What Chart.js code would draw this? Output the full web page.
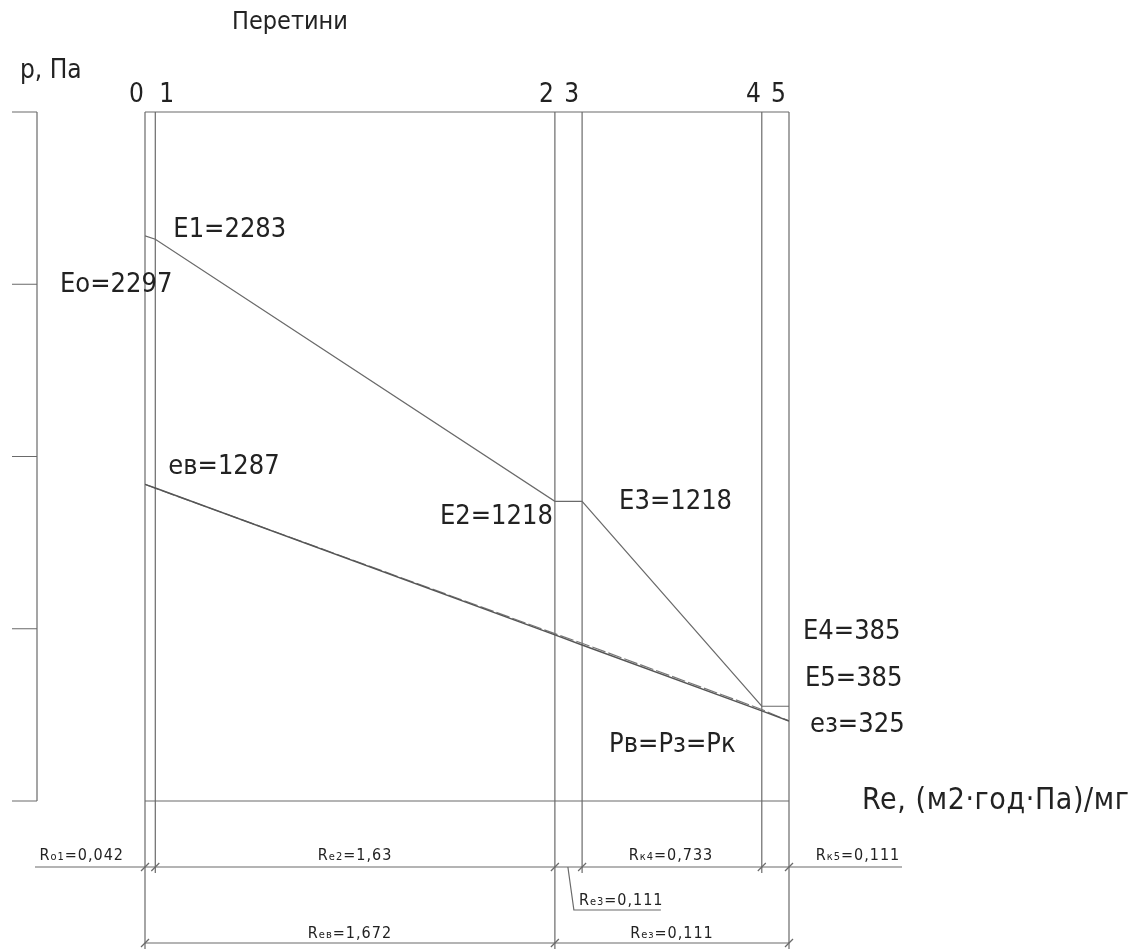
<!DOCTYPE html>
<html>
<head>
<meta charset="utf-8">
<script src="https://cdn.jsdelivr.net/npm/chart.js@4"></script>
<style>
  html, body { margin: 0; padding: 0; background: #fff; }
  #wrap { width: 1141px; height: 951px; position: relative; }
</style>
</head>
<body>
<div id="wrap"><canvas id="context" width="1141" height="951"></canvas></div>
<script>
// sections and cumulative resistance Re at each section
const sections = ['0', '1', '2', '3', '4', '5'];
const resistance = [0, 0.042, 1.672, 1.783, 2.516, 2.627];
// max vapour pressure E at each section, Pa
const maxPressure = [2297, 2283, 1218, 1218, 385, 385];
const maxLabels = ['Eо=2297', 'E1=2283', 'E2=1218', 'E3=1218', 'E4=385', 'E5=385'];
// partial vapour pressure e (solid and dashed line), Pa
const partialPressure = [1287, 1272, 675, 634, 366, 325];
const partialDashed = [1287, 1271, 680, 641, 372, 325];
// left axis ticks, Pa
const pressureTicks = [0, 700, 1400, 2100, 2800];
// dimension labels: [main, subscript, value]
const layerDims = [['R', 'о1', '=0,042'], ['R', 'е2', '=1,63'], ['R', 'е3', '=0,111'], ['R', 'к4', '=0,733'], ['R', 'к5', '=0,111']];
const zoneDims = [['R', 'ев', '=1,672'], ['R', 'ез', '=0,111']];

const FONT = '"DejaVu Sans Condensed", "DejaVu Sans", sans-serif';
const INK = '#222';
const LINE = '#6a6a6a';

function toPoints(values) {
  return values.map((v, i) => ({ x: resistance[i], y: v }));
}

function dimText(ctx, parts, x, y, align) {
  ctx.letterSpacing = '1px';
  ctx.font = '16px ' + FONT;
  const w1 = ctx.measureText(parts[0]).width;
  ctx.font = '11px ' + FONT;
  const w2 = ctx.measureText(parts[1]).width;
  ctx.font = '16px ' + FONT;
  const w3 = ctx.measureText(parts[2]).width;
  const total = w1 + w2 + w3;
  let sx = align === 'center' ? x - total / 2 : (align === 'right' ? x - total : x);
  ctx.textAlign = 'left';
  ctx.textBaseline = 'alphabetic';
  ctx.fillText(parts[0], sx, y);
  ctx.font = '11px ' + FONT;
  ctx.fillText(parts[1], sx + w1, y);
  ctx.font = '16px ' + FONT;
  ctx.fillText(parts[2], sx + w1 + w2, y);
  ctx.letterSpacing = '0px';
}

function slash(ctx, x, y) {
  ctx.beginPath();
  ctx.moveTo(x - 4, y + 4);
  ctx.lineTo(x + 4, y - 4);
  ctx.stroke();
}

const drawingPlugin = {
  id: 'drawing',
  beforeDatasetsDraw(chart) {
    const { ctx, chartArea } = chart;
    const xs = chart.scales.x, ys = chart.scales.y;
    const top = chartArea.top, bottom = chartArea.bottom;
    const px = resistance.map(r => xs.getPixelForValue(r));
    const rowY = bottom + 66, zoneY = bottom + 142;
    ctx.save();
    ctx.strokeStyle = LINE;
    ctx.lineWidth = 1.2;

    // frame top and bottom
    ctx.beginPath();
    ctx.moveTo(px[0], top); ctx.lineTo(px[5], top);
    ctx.moveTo(px[0], bottom); ctx.lineTo(px[5], bottom);
    ctx.stroke();

    // section lines, long ones reach the bottom dimension row
    const longOnes = [0, 2, 5];
    px.forEach((x, i) => {
      ctx.beginPath();
      ctx.moveTo(x, top);
      ctx.lineTo(x, longOnes.includes(i) ? zoneY + 6 : rowY + 6);
      ctx.stroke();
    });

    // left pressure axis bracket
    const axX = 37;
    ctx.beginPath();
    ctx.moveTo(axX, ys.getPixelForValue(pressureTicks[0]));
    ctx.lineTo(axX, ys.getPixelForValue(pressureTicks[pressureTicks.length - 1]));
    pressureTicks.forEach(t => {
      const y = ys.getPixelForValue(t);
      ctx.moveTo(12, y); ctx.lineTo(axX, y);
    });
    ctx.stroke();

    // dimension rows
    ctx.beginPath();
    ctx.moveTo(35, rowY); ctx.lineTo(902, rowY);
    ctx.moveTo(px[0], zoneY); ctx.lineTo(px[5], zoneY);
    ctx.stroke();
    px.forEach(x => slash(ctx, x, rowY));
    [px[0], px[2], px[5]].forEach(x => slash(ctx, x, zoneY));

    // leader for the thin layer 3
    ctx.beginPath();
    ctx.moveTo(px[2] + 13, rowY);
    ctx.lineTo(px[2] + 19, rowY + 43);
    ctx.lineTo(px[2] + 106, rowY + 43);
    ctx.stroke();

    ctx.fillStyle = INK;
    dimText(ctx, layerDims[0], px[0] - 21, rowY - 7, 'right');
    dimText(ctx, layerDims[1], (px[1] + px[2]) / 2, rowY - 7, 'center');
    dimText(ctx, layerDims[2], px[2] + 24, rowY + 38, 'left');
    dimText(ctx, layerDims[3], (px[3] + px[4]) / 2 - 1, rowY - 7, 'center');
    dimText(ctx, layerDims[4], px[5] + 69, rowY - 7, 'center');
    dimText(ctx, zoneDims[0], (px[0] + px[2]) / 2, zoneY - 5, 'center');
    dimText(ctx, zoneDims[1], (px[2] + px[5]) / 2, zoneY - 5, 'center');
    ctx.restore();
  },
  afterDatasetsDraw(chart) {
    const { ctx, chartArea } = chart;
    const xs = chart.scales.x, ys = chart.scales.y;
    const px = resistance.map(r => xs.getPixelForValue(r));
    const py = maxPressure.map(v => ys.getPixelForValue(v));
    ctx.save();
    ctx.fillStyle = INK;
    ctx.textBaseline = 'middle';

    // titles
    ctx.font = '25px ' + FONT;
    ctx.textAlign = 'left';
    ctx.fillText('Перетини', 232, 22);
    ctx.font = '26px ' + FONT;
    ctx.fillText('р, Па', 20, 71);
    ctx.letterSpacing = '0.6px';
    ctx.font = '30px ' + FONT;
    ctx.fillText('Re, (м2·год·Па)/мг', 862, 801);
    ctx.letterSpacing = '0px';

    // section numbers
    ctx.font = '26px ' + FONT;
    ctx.textAlign = 'right';
    [0, 2, 4].forEach(i => ctx.fillText(sections[i], px[i] - 1, chartArea.top - 17));
    ctx.fillText(sections[3], px[3] - 3, chartArea.top - 17);
    ctx.fillText(sections[5], px[5] - 3, chartArea.top - 17);
    ctx.textAlign = 'left';
    ctx.fillText(sections[1], px[1] + 4, chartArea.top - 17);

    // pressure labels
    ctx.font = '27px ' + FONT;
    ctx.textAlign = 'left';
    ctx.fillText(maxLabels[1], px[1] + 18, py[1] - 9);
    ctx.fillText(maxLabels[0], px[0] - 85, py[0] + 49);
    ctx.textAlign = 'right';
    ctx.fillText(maxLabels[2], px[2] - 2, py[2] + 16);
    ctx.textAlign = 'left';
    ctx.fillText(maxLabels[3], px[3] + 37, py[3] + 1);
    ctx.fillText(maxLabels[4], px[5] + 14, py[4] - 74);
    ctx.fillText(maxLabels[5], px[5] + 16, py[5] - 27);
    const ev = ys.getPixelForValue(partialPressure[0]);
    ctx.fillText('eв=' + partialPressure[0], px[1] + 13, ev - 17);
    const ez = ys.getPixelForValue(partialPressure[5]);
    ctx.fillText('eз=' + partialPressure[5], px[5] + 21, ez + 4);
    ctx.fillText('Pв=Pз=Pк', px[3] + 27, ez + 24);
    ctx.restore();
  }
};

const chart = new Chart(document.getElementById('context'), {
  type: 'scatter',
  data: {
    datasets: [
      {
        label: 'E',
        data: toPoints(maxPressure),
        showLine: true,
        borderColor: LINE,
        borderWidth: 1.2,
        pointRadius: 0
      },
      {
        label: 'e',
        data: toPoints(partialPressure),
        showLine: true,
        borderColor: '#555',
        borderWidth: 1.4,
        pointRadius: 0
      },
      {
        label: 'e dashed',
        data: toPoints(partialDashed),
        showLine: true,
        borderColor: '#777',
        borderWidth: 1.2,
        borderDash: [14, 3],
        pointRadius: 0
      }
    ]
  },
  options: {
    responsive: false,
    animation: false,
    layout: { padding: { left: 145, right: 352, top: 112, bottom: 150 } },
    scales: {
      x: { type: 'linear', display: false, min: 0, max: resistance[resistance.length - 1] },
      y: { type: 'linear', display: false, min: pressureTicks[0], max: pressureTicks[pressureTicks.length - 1] }
    },
    plugins: {
      legend: { display: false },
      tooltip: { enabled: false }
    }
  },
  plugins: [drawingPlugin]
});
</script>
</body>
</html>
